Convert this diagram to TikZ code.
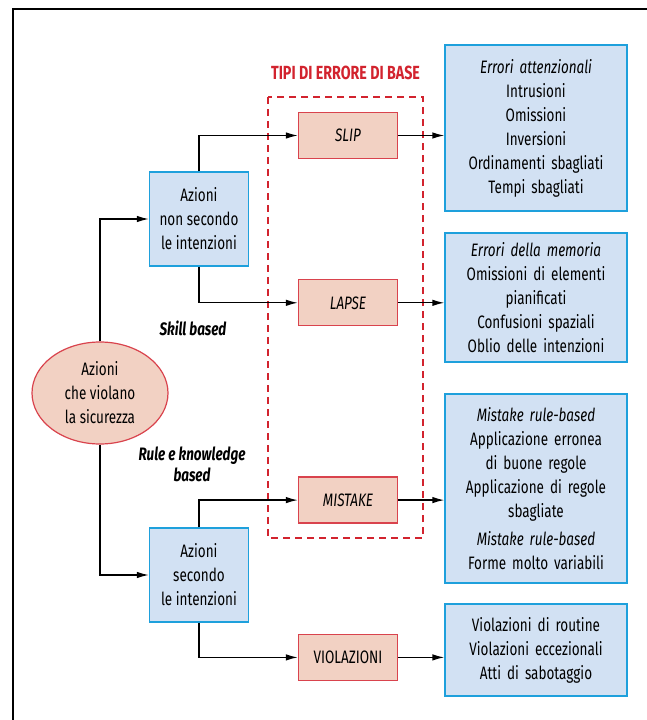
\documentclass[tikz,border=0pt]{standalone}
\usepackage{fontspec}
\setmainfont{Fira Sans}[FakeStretch=0.75]
\usepackage{tikz}
\usetikzlibrary{arrows.meta, positioning, shapes.geometric}

\definecolor{boxblue}{HTML}{D2E1F3}
\definecolor{edgeblue}{HTML}{1EA0DC}
\definecolor{boxpink}{HTML}{F2D1C3}
\definecolor{edgered}{HTML}{D9434D}
\definecolor{titlered}{HTML}{D2232E}

\begin{document}
\begin{tikzpicture}[
  x=1pt, y=-1pt,
  >={Latex[length=12pt,width=6.5pt]},
  font=\fontsize{18}{24}\selectfont,
  block/.style={
    rectangle, draw, line width=1.3pt, align=center,
    inner sep=0pt,
  },
  action/.style={block, fill=boxblue, draw=edgeblue, minimum width=99pt, minimum height=94pt},
  kind/.style={block, fill=boxpink, draw=edgered, minimum width=99pt, minimum height=46pt},
  detail/.style={block, fill=boxblue, draw=edgeblue, minimum width=182pt, text width=180pt},
  cause/.style={ellipse, draw=edgered, fill=boxpink, line width=1.2pt,
    minimum width=136pt, minimum height=102pt, align=center, inner sep=0pt},
  level/.style={font=\fontsize{18}{21}\selectfont\bfseries\itshape, align=center},
  link/.style={->, line width=1.3pt},
]
\useasboundingbox (0,0) rectangle (646,720);

% --- Frame ---
\draw[line width=1.6pt] (13,722) -- (13,9) -- (648,9);

% --- Basic error types ---
\draw[titlered, line width=2.2pt, dash pattern=on 7pt off 5pt] (268,97) rectangle (423,538);
\node[font=\fontsize{19}{22}\selectfont\bfseries, text=titlered] (title) at (345.5,73) {TIPI DI ERRORE DI BASE};

\node[kind] (slip) at (348,135.5) {\itshape SLIP};
\node[kind, below=120pt of slip] (lapse) {\itshape LAPSE};
\node[kind, below=150pt of lapse] (mistake) {\itshape MISTAKE};
\node[kind, below=110pt of mistake] (viol) {VIOLAZIONI};

% --- Cause and actions ---
\node[cause] (unsafe) at (100,393) {Azioni\\ che violano\\ la sicurezza};
\node[action] (notint) at (199,219) {Azioni\\ non secondo\\ le intenzioni};
\node[action] (byint) at (199,575) {Azioni\\ secondo\\ le intenzioni};

\node[level] (skill) at (193,328) {Skill based};
\node[level] (rule) at (192,464) {Rule e knowledge\\ based};

% --- Details ---
\node[detail, minimum height=166pt] (attn) at (536,128) {\textit{Errori attenzionali}\\
Intrusioni\\ Omissioni\\ Inversioni\\ Ordinamenti sbagliati\\ Tempi sbagliati};
\node[detail, minimum height=129pt] (memo) at (536,297.5) {\textit{Errori della memoria}\\
Omissioni di elementi\\ pianificati\\ Confusioni spaziali\\ Oblio delle intenzioni};
\node[detail, minimum height=189pt] (rules) at (536,488.5) {\textit{Mistake rule-based}\\
Applicazione erronea\\ di buone regole\\ Applicazione di regole\\ sbagliate\\[4pt]
\textit{Mistake rule-based}\\ Forme molto variabili};
\node[detail, minimum height=92pt] (viols) at (536,650) {Violazioni di routine\\
Violazioni eccezionali\\ Atti di sabotaggio};

% --- Arrows ---
\draw[link] (unsafe.north) |- (notint.west);
\draw[link] (unsafe.south) |- (byint.west);

\draw[link] (notint.north) |- (slip.west);
\draw[link] (notint.south) |- (lapse.west);
\draw[link] (byint.north) |- (mistake.west);
\draw[link] (byint.south) |- (viol.west);

\draw[link] (slip.east) -- (slip.east -| attn.west);
\draw[link] (lapse.east) -- (lapse.east -| memo.west);
\draw[link] (mistake.east) -- (mistake.east -| rules.west);
\draw[link] (viol.east) -- (viol.east -| viols.west);

\end{tikzpicture}
\end{document}
